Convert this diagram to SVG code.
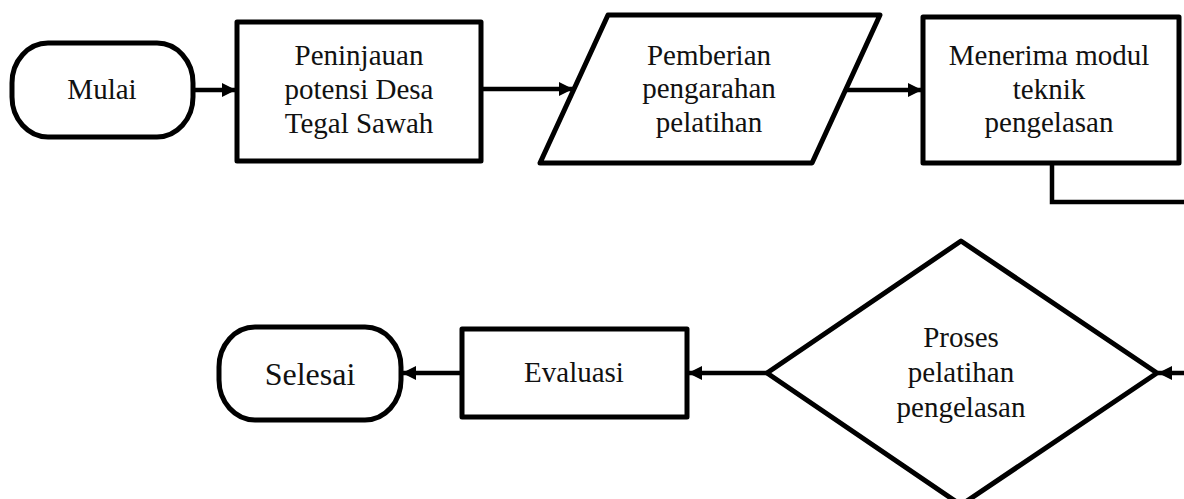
<svg xmlns="http://www.w3.org/2000/svg" width="1184" height="499" viewBox="0 0 1184 499">
<defs>
<style>
.shape{fill:#fff;stroke:#000;stroke-width:5;stroke-linejoin:round}
.line{fill:none;stroke:#000;stroke-width:4.5}
.t{font-family:"Liberation Serif","Times New Roman",serif;font-size:29px;fill:#111;text-anchor:middle}
</style>
<marker id="ah" viewBox="0 0 14 14" refX="14" refY="7" markerWidth="14" markerHeight="14" markerUnits="userSpaceOnUse" orient="auto">
<path d="M0,0 L14,7 L0,14 Z" fill="#000"/>
</marker>
</defs>
<rect width="1184" height="499" fill="#fff"/>
<g id="connectors">
<line class="line" x1="193" y1="90" x2="236" y2="90" marker-end="url(#ah)"/>
<line class="line" x1="481" y1="89" x2="573" y2="89" marker-end="url(#ah)"/>
<line class="line" x1="846" y1="90" x2="922" y2="90" marker-end="url(#ah)"/>
<polyline class="line" points="1052,163 1052,202 1190,202"/>
<line class="line" x1="1190" y1="373" x2="1158" y2="373" marker-end="url(#ah)"/>
<line class="line" x1="767" y1="373" x2="688" y2="373" marker-end="url(#ah)"/>
<line class="line" x1="462" y1="373" x2="402" y2="373" marker-end="url(#ah)"/>
</g>
<g id="mulai">
<rect class="shape" x="12" y="43" width="181" height="94" rx="36" ry="40"/>
<text class="t" x="102" y="99">Mulai</text>
</g>
<g id="peninjauan">
<rect class="shape" x="237" y="22" width="244" height="139"/>
<text class="t" x="359" y="65">Peninjauan</text>
<text class="t" x="359" y="99">potensi Desa</text>
<text class="t" x="359" y="133">Tegal Sawah</text>
</g>
<g id="pemberian">
<polygon class="shape" points="608,15 880,15 812,163 540,163"/>
<text class="t" x="709" y="65">Pemberian</text>
<text class="t" x="709" y="98">pengarahan</text>
<text class="t" x="709" y="132">pelatihan</text>
</g>
<g id="menerima">
<rect class="shape" x="923" y="17" width="256" height="146"/>
<text class="t" x="1049" y="65">Menerima modul</text>
<text class="t" x="1049" y="99">teknik</text>
<text class="t" x="1049" y="132">pengelasan</text>
</g>
<g id="proses">
<polygon class="shape" points="961,241 1157,373 961,505 767,373"/>
<text class="t" x="961" y="347">Proses</text>
<text class="t" x="961" y="382">pelatihan</text>
<text class="t" x="961" y="417">pengelasan</text>
</g>
<g id="evaluasi">
<rect class="shape" x="462" y="329" width="225" height="88"/>
<text class="t" x="574" y="382">Evaluasi</text>
</g>
<g id="selesai">
<rect class="shape" x="219" y="327" width="182" height="93" rx="36" ry="40"/>
<text class="t" x="310" y="385" style="font-size:32px">Selesai</text>
</g>
</svg>
